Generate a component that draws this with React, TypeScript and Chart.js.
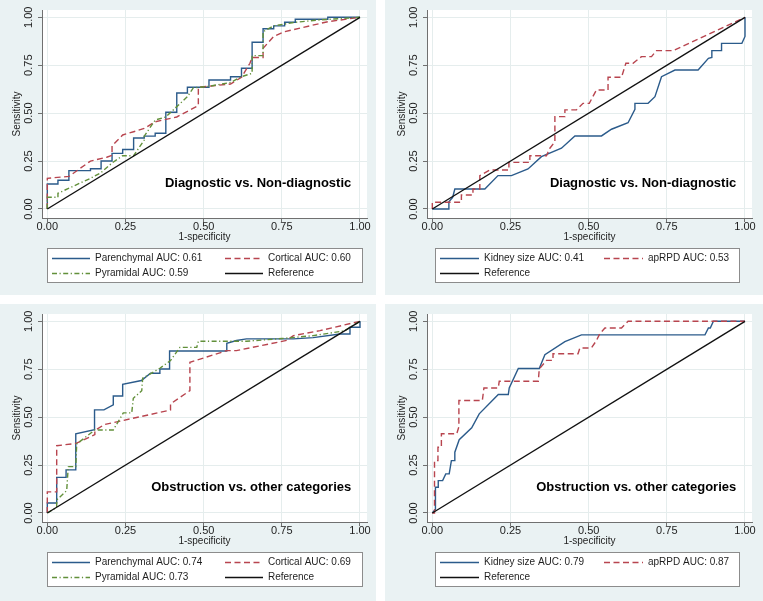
import React, { useEffect, useRef } from "react";
import { Chart, registerables } from "chart.js";

Chart.register(...registerables);

// ---------- shared axis data ----------
const tickValues = [0, 0.25, 0.5, 0.75, 1];
const tickLabels = ["0.00", "0.25", "0.50", "0.75", "1.00"];
const xTitle = "1-specificity";
const yTitle = "Sensitivity";
const refX = [0, 1];
const refY = [0, 1];

// ---------- panel A: Diagnostic vs. Non-diagnostic (pyramid measures) ----------
const diagTitle = "Diagnostic vs. Non-diagnostic";
const diagParenchymalX = [0, 0, 0.034, 0.034, 0.069, 0.069, 0.138, 0.138, 0.172, 0.172, 0.207, 0.207, 0.241, 0.241, 0.276, 0.276, 0.31, 0.31, 0.345, 0.345, 0.379, 0.379, 0.414, 0.414, 0.448, 0.448, 0.517, 0.517, 0.586, 0.586, 0.621, 0.621, 0.655, 0.655, 0.69, 0.69, 0.724, 0.724, 0.759, 0.759, 0.793, 0.793, 0.897, 0.897, 1];
const diagParenchymalY = [0, 0.13, 0.13, 0.15, 0.15, 0.2, 0.2, 0.21, 0.21, 0.25, 0.25, 0.29, 0.29, 0.31, 0.31, 0.37, 0.37, 0.38, 0.38, 0.395, 0.395, 0.505, 0.505, 0.605, 0.605, 0.635, 0.635, 0.673, 0.673, 0.69, 0.69, 0.734, 0.734, 0.87, 0.87, 0.94, 0.94, 0.955, 0.955, 0.974, 0.974, 0.99, 0.99, 1, 1];
const diagCorticalX = [0, 0, 0.069, 0.138, 0.19, 0.207, 0.207, 0.241, 0.276, 0.31, 0.345, 0.414, 0.483, 0.483, 0.586, 0.621, 0.648, 0.655, 0.69, 0.69, 0.724, 0.759, 0.897, 1];
const diagCorticalY = [0, 0.16, 0.17, 0.25, 0.27, 0.28, 0.33, 0.386, 0.403, 0.42, 0.455, 0.48, 0.54, 0.635, 0.652, 0.687, 0.76, 0.79, 0.79, 0.838, 0.9, 0.925, 0.977, 1];
const diagPyramidalX = [0, 0, 0.034, 0.034, 0.138, 0.172, 0.207, 0.241, 0.276, 0.31, 0.31, 0.345, 0.379, 0.414, 0.448, 0.467, 0.517, 0.586, 0.621, 0.655, 0.655, 0.69, 0.69, 0.724, 0.759, 0.793, 0.862, 1];
const diagPyramidalY = [0, 0.061, 0.061, 0.082, 0.16, 0.19, 0.24, 0.278, 0.278, 0.36, 0.38, 0.464, 0.48, 0.534, 0.586, 0.632, 0.64, 0.66, 0.69, 0.708, 0.8, 0.8, 0.925, 0.955, 0.965, 0.974, 0.985, 1];

// ---------- panel B: Diagnostic vs. Non-diagnostic (kidney size / apRPD) ----------
const diagKidneyX = [0, 0.053, 0.053, 0.065, 0.072, 0.136, 0.168, 0.21, 0.253, 0.306, 0.349, 0.413, 0.456, 0.541, 0.573, 0.626, 0.648, 0.648, 0.69, 0.712, 0.733, 0.776, 0.85, 0.883, 0.894, 0.894, 0.925, 0.925, 0.99, 1, 1];
const diagKidneyY = [0, 0, 0.038, 0.06, 0.104, 0.104, 0.104, 0.174, 0.174, 0.209, 0.273, 0.317, 0.381, 0.381, 0.416, 0.45, 0.52, 0.551, 0.551, 0.586, 0.69, 0.725, 0.725, 0.786, 0.79, 0.826, 0.826, 0.864, 0.864, 0.9, 1];
const diagApRPDX = [0, 0, 0.093, 0.093, 0.13, 0.13, 0.152, 0.152, 0.184, 0.245, 0.245, 0.312, 0.312, 0.365, 0.376, 0.392, 0.392, 0.424, 0.424, 0.461, 0.482, 0.502, 0.525, 0.562, 0.562, 0.605, 0.619, 0.642, 0.669, 0.701, 0.717, 0.77, 1];
const diagApRPDY = [0, 0.035, 0.035, 0.073, 0.073, 0.104, 0.104, 0.174, 0.203, 0.203, 0.243, 0.243, 0.278, 0.278, 0.317, 0.351, 0.482, 0.482, 0.517, 0.517, 0.551, 0.551, 0.621, 0.621, 0.687, 0.687, 0.76, 0.76, 0.795, 0.795, 0.826, 0.826, 1];

// ---------- panel C: Obstruction vs. other categories (pyramid measures) ----------
const obsTitle = "Obstruction vs. other categories";
const obsParenchymalX = [0, 0, 0.03, 0.03, 0.06, 0.06, 0.091, 0.091, 0.151, 0.151, 0.181, 0.211, 0.211, 0.241, 0.241, 0.301, 0.33, 0.36, 0.36, 0.391, 0.391, 0.574, 0.574, 0.605, 0.637, 0.787, 0.85, 0.936, 0.968, 0.968, 1, 1];
const obsParenchymalY = [0, 0.052, 0.052, 0.186, 0.186, 0.225, 0.225, 0.413, 0.434, 0.538, 0.538, 0.564, 0.61, 0.61, 0.671, 0.691, 0.729, 0.729, 0.751, 0.751, 0.845, 0.845, 0.885, 0.9, 0.908, 0.908, 0.915, 0.934, 0.934, 0.969, 0.969, 1];
const obsCorticalX = [0, 0, 0.03, 0.03, 0.092, 0.152, 0.152, 0.182, 0.394, 0.394, 0.424, 0.456, 0.456, 0.574, 0.605, 0.765, 0.787, 0.872, 1];
const obsCorticalY = [0, 0.11, 0.11, 0.351, 0.363, 0.409, 0.43, 0.461, 0.537, 0.569, 0.603, 0.638, 0.786, 0.847, 0.847, 0.9, 0.925, 0.951, 1];
const obsPyramidalX = [0, 0.03, 0.03, 0.062, 0.067, 0.091, 0.094, 0.152, 0.211, 0.243, 0.27, 0.275, 0.302, 0.305, 0.36, 0.394, 0.424, 0.478, 0.483, 0.637, 0.75, 0.85, 0.95, 1];
const obsPyramidalY = [0, 0.03, 0.068, 0.117, 0.242, 0.242, 0.36, 0.433, 0.433, 0.522, 0.522, 0.598, 0.638, 0.703, 0.755, 0.795, 0.864, 0.864, 0.896, 0.896, 0.91, 0.925, 0.95, 1];

// ---------- panel D: Obstruction vs. other categories (kidney size / apRPD) ----------
const obsKidneyX = [0, 0.01, 0.01, 0.019, 0.019, 0.033, 0.043, 0.054, 0.061, 0.072, 0.072, 0.086, 0.126, 0.15, 0.211, 0.243, 0.246, 0.275, 0.342, 0.36, 0.424, 0.477, 0.872, 0.883, 0.889, 0.899, 1];
const obsKidneyY = [0, 0.02, 0.134, 0.134, 0.169, 0.169, 0.204, 0.204, 0.273, 0.273, 0.317, 0.382, 0.444, 0.517, 0.618, 0.618, 0.652, 0.754, 0.754, 0.826, 0.894, 0.929, 0.929, 0.965, 0.965, 1, 1];
const obsApRPDX = [0, 0.007, 0.007, 0.018, 0.018, 0.029, 0.029, 0.078, 0.085, 0.085, 0.16, 0.165, 0.211, 0.214, 0.339, 0.342, 0.365, 0.386, 0.386, 0.466, 0.472, 0.509, 0.525, 0.536, 0.552, 0.605, 0.626, 1];
const obsApRPDY = [0, 0, 0.273, 0.273, 0.343, 0.343, 0.413, 0.413, 0.45, 0.587, 0.587, 0.652, 0.652, 0.687, 0.687, 0.751, 0.796, 0.796, 0.831, 0.831, 0.861, 0.861, 0.9, 0.936, 0.965, 0.965, 1, 1];

// ---------- styles ----------
const FONT = '"Liberation Sans", Arial, Helvetica, sans-serif';
const TEXT = "#1e1e1e";
const AXIS = "#707070";
const GRID = "#e5eded";
const PANEL_BG = "#eaf2f3";
const BLUE = "#2b5b8b";
const RED = "#b8454f";
const GREEN = "#62903a";
const BLACK = "#111111";

type Series = { label: string; x: number[]; y: number[]; color: string; dash: number[]; order: number };

const parenchymal = (x: number[], y: number[], auc: string): Series => ({ label: `Parenchymal AUC: ${auc}`, x, y, color: BLUE, dash: [], order: 3 });
const cortical = (x: number[], y: number[], auc: string): Series => ({ label: `Cortical AUC: ${auc}`, x, y, color: RED, dash: [6, 3.5], order: 2 });
const pyramidal = (x: number[], y: number[], auc: string): Series => ({ label: `Pyramidal AUC: ${auc}`, x, y, color: GREEN, dash: [5, 2.5, 1.2, 2.5], order: 1 });
const kidney = (x: number[], y: number[], auc: string): Series => ({ label: `Kidney size AUC: ${auc}`, x, y, color: BLUE, dash: [], order: 3 });
const aprpd = (x: number[], y: number[], auc: string): Series => ({ label: `apRPD AUC: ${auc}`, x, y, color: RED, dash: [6, 3.5], order: 2 });
const reference = (): Series => ({ label: "Reference", x: refX, y: refY, color: BLACK, dash: [], order: 0 });

type LegendLayout = { x: number; y: number; w: number; h: number; cols: number[]; rows: number[]; sample: number };

const leftLegend: LegendLayout = { x: 47, y: 248, w: 316, h: 35, cols: [52, 225], rows: [258, 273], sample: 38 };
const rightLegend: LegendLayout = { x: 50, y: 248, w: 305, h: 35, cols: [55, 219], rows: [258, 273], sample: 39 };

type PanelDef = { left: number; top: number; width: number; height: number; series: Series[]; note: string; legend: LegendLayout };

const panels: PanelDef[] = [
  {
    left: 0, top: 0, width: 376, height: 295, note: diagTitle, legend: leftLegend,
    series: [parenchymal(diagParenchymalX, diagParenchymalY, "0.61"), cortical(diagCorticalX, diagCorticalY, "0.60"), pyramidal(diagPyramidalX, diagPyramidalY, "0.59"), reference()],
  },
  {
    left: 385, top: 0, width: 378, height: 295, note: diagTitle, legend: rightLegend,
    series: [kidney(diagKidneyX, diagKidneyY, "0.41"), aprpd(diagApRPDX, diagApRPDY, "0.53"), reference()],
  },
  {
    left: 0, top: 304, width: 376, height: 297, note: obsTitle, legend: leftLegend,
    series: [parenchymal(obsParenchymalX, obsParenchymalY, "0.74"), cortical(obsCorticalX, obsCorticalY, "0.69"), pyramidal(obsPyramidalX, obsPyramidalY, "0.73"), reference()],
  },
  {
    left: 385, top: 304, width: 378, height: 297, note: obsTitle, legend: rightLegend,
    series: [kidney(obsKidneyX, obsKidneyY, "0.79"), aprpd(obsApRPDX, obsApRPDY, "0.87"), reference()],
  },
];

// ---------- plugins ----------
const backgroundPlugin = {
  id: "panelBackground",
  beforeDraw(chart: any) {
    const { ctx, chartArea } = chart;
    ctx.save();
    ctx.fillStyle = PANEL_BG;
    ctx.fillRect(0, 0, chart.width, chart.height);
    ctx.fillStyle = "#ffffff";
    ctx.fillRect(chartArea.left, chartArea.top, chartArea.right - chartArea.left, chartArea.bottom - chartArea.top);
    ctx.restore();
  },
};

const notePlugin = {
  id: "panelNote",
  afterDatasetsDraw(chart: any, _args: any, opts: any) {
    const { ctx, scales } = chart;
    ctx.save();
    ctx.font = `bold 13px ${FONT}`;
    ctx.fillStyle = "#000";
    ctx.textAlign = "right";
    ctx.textBaseline = "middle";
    ctx.fillText(opts.text, scales.x.getPixelForValue(0.972), scales.y.getPixelForValue(0.133));
    ctx.restore();
  },
};

const legendPlugin = {
  id: "stataLegend",
  afterDraw(chart: any, _args: any, opts: any) {
    const { ctx } = chart;
    const L: LegendLayout = opts.layout;
    ctx.save();
    ctx.fillStyle = "#ffffff";
    ctx.fillRect(L.x, L.y, L.w, L.h);
    ctx.strokeStyle = "#8c8c8c";
    ctx.lineWidth = 1;
    ctx.strokeRect(L.x + 0.5, L.y + 0.5, L.w - 1, L.h - 1);
    chart.data.datasets.forEach((ds: any, i: number) => {
      const sx = L.cols[i % 2];
      const y = L.rows[Math.floor(i / 2)];
      ctx.strokeStyle = ds.borderColor;
      ctx.lineWidth = ds.borderWidth;
      ctx.setLineDash(ds.borderDash || []);
      ctx.beginPath();
      ctx.moveTo(sx, y + 0.5);
      ctx.lineTo(sx + L.sample, y + 0.5);
      ctx.stroke();
      ctx.setLineDash([]);
      ctx.fillStyle = TEXT;
      ctx.font = `10px ${FONT}`;
      ctx.textAlign = "left";
      ctx.textBaseline = "middle";
      ctx.fillText(ds.label, sx + L.sample + 5, y + 0.5);
    });
    ctx.restore();
  },
};

function setTicks(scale: any) {
  scale.ticks = tickValues.map((v) => ({ value: v }));
}

function RocPanel({ def }: { def: PanelDef }) {
  const ref = useRef<HTMLCanvasElement | null>(null);
  useEffect(() => {
    if (!ref.current) return;
    const chart = new Chart(ref.current, {
      type: "scatter",
      data: {
        datasets: def.series.map((s) => ({
          label: s.label,
          data: s.x.map((x, i) => ({ x, y: s.y[i] })),
          showLine: true,
          borderColor: s.color,
          backgroundColor: s.color,
          borderWidth: 1.4,
          borderDash: s.dash,
          pointRadius: 0,
          pointHoverRadius: 0,
          fill: false,
          tension: 0,
          order: s.order,
        })),
      },
      options: {
        animation: false,
        responsive: false,
        maintainAspectRatio: false,
        events: [],
        layout: { padding: { left: 10, right: def.width - 367, top: 10, bottom: def.height - 218 - 25 } },
        plugins: {
          legend: { display: false },
          tooltip: { enabled: false },
          panelNote: { text: def.note },
          stataLegend: { layout: def.legend },
        } as any,
        scales: {
          x: {
            type: "linear",
            position: "bottom",
            min: -0.017,
            max: 1.0224,
            afterBuildTicks: setTicks,
            afterFit: (s: any) => { s.height = 25; },
            ticks: {
              autoSkip: false, minRotation: 0, maxRotation: 0, padding: -2, color: TEXT,
              font: { family: FONT, size: 11 },
              callback: (_v: any, i: number) => tickLabels[i],
            },
            grid: { color: GRID, lineWidth: 1, drawTicks: true, tickLength: 4, tickColor: AXIS, tickWidth: 1 },
            border: { display: true, color: AXIS, width: 1 },
            title: { display: true, text: xTitle, color: TEXT, font: { family: FONT, size: 10 }, padding: { top: 0, bottom: 0 } },
          },
          y: {
            type: "linear",
            position: "left",
            min: -0.047,
            max: 1.038,
            afterBuildTicks: setTicks,
            afterFit: (s: any) => { s.width = 32; },
            ticks: {
              autoSkip: false, minRotation: 90, maxRotation: 90, crossAlign: "center", padding: -2, color: TEXT,
              font: { family: FONT, size: 11 },
              callback: (_v: any, i: number) => tickLabels[i],
            },
            grid: { color: GRID, lineWidth: 1, drawTicks: true, tickLength: 4, tickColor: AXIS, tickWidth: 1 },
            border: { display: true, color: AXIS, width: 1 },
            title: { display: true, text: yTitle, color: TEXT, font: { family: FONT, size: 10 }, padding: { top: 1, bottom: 0 } },
          },
        },
      } as any,
      plugins: [backgroundPlugin, notePlugin, legendPlugin],
    });
    return () => chart.destroy();
  }, [def]);
  return (
    <div style={{ position: "absolute", left: def.left, top: def.top, width: def.width, height: def.height }}>
      <canvas ref={ref} width={def.width} height={def.height} style={{ display: "block", width: def.width, height: def.height }} />
    </div>
  );
}

export default function App() {
  return (
    <div style={{ position: "fixed", left: 0, top: 0, width: 763, height: 601, background: "#ffffff", overflow: "hidden" }}>
      {panels.map((p, i) => (
        <RocPanel key={i} def={p} />
      ))}
    </div>
  );
}
